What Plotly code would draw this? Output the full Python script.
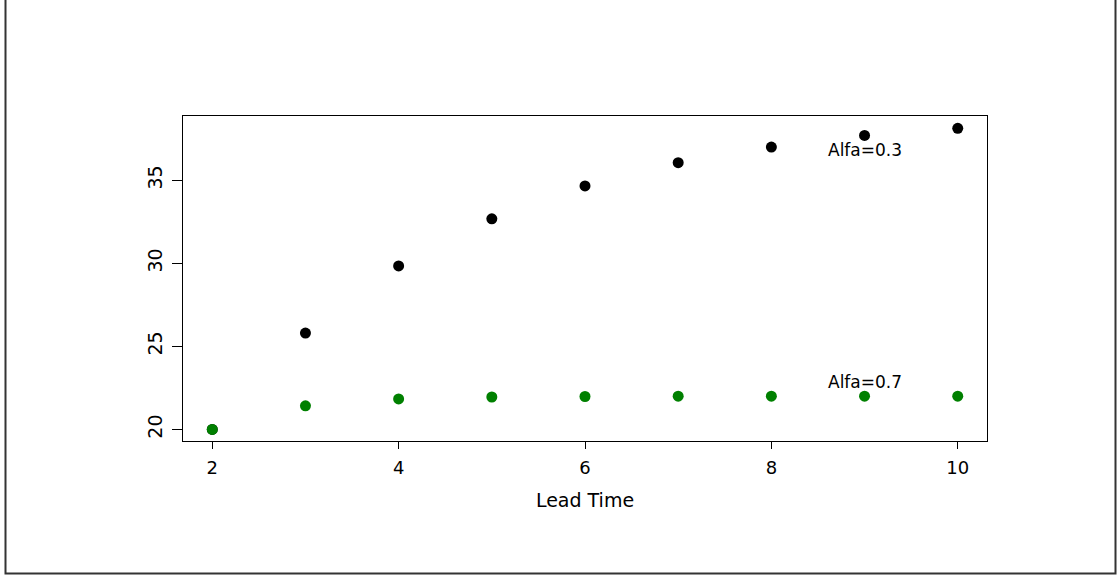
import plotly.graph_objects as go

lead_time = [2, 3, 4, 5, 6, 7, 8, 9, 10]
alfa03 = [20.0, 25.8, 29.84, 32.68, 34.66, 36.06, 37.0, 37.7, 38.13]
alfa07 = [20.0, 21.42, 21.83, 21.95, 21.98, 22.0, 22.0, 22.0, 22.0]
x_ticks = [2, 4, 6, 8, 10]
y_ticks = [20, 25, 30, 35]
labels = ["Alfa=0.3", "Alfa=0.7"]
label_x = [9, 9]
label_y = [36.85, 22.87]

FONT = "DejaVu Sans, Liberation Sans, Arial, sans-serif"

fig = go.Figure()
fig.add_trace(go.Scatter(x=lead_time, y=alfa03, mode="markers",
                         marker=dict(color="black", size=11, line=dict(width=0)),
                         showlegend=False, hoverinfo="skip"))
fig.add_trace(go.Scatter(x=lead_time, y=alfa07, mode="markers",
                         marker=dict(color="#008000", size=11, line=dict(width=0)),
                         showlegend=False, hoverinfo="skip"))
for t, xx, yy in zip(labels, label_x, label_y):
    fig.add_annotation(x=xx, y=yy, text=t, showarrow=False,
                       font=dict(family=FONT, size=17, color="black"))

L, R, T, B = 183, 1120 - 987, 116, 575 - 441
W, H = 1120 - L - R, 575 - T - B

fig.add_shape(type="rect", xref="paper", yref="paper",
              x0=(5.5 - L) / W, x1=(1115.5 - L) / W,
              y0=(441 - 573.5) / H, y1=(441 + 10) / H,
              line=dict(color="#333333", width=2), layer="below")

fig.update_layout(
    width=1120, height=575,
    margin=dict(l=L, r=R, t=T, b=B),
    paper_bgcolor="white", plot_bgcolor="white",
    font=dict(family=FONT, size=18, color="black"),
    xaxis=dict(range=[1.686, 10.314], tickvals=x_ticks, ticks="outside",
               ticklen=7, tickcolor="black", showgrid=False, zeroline=False,
               showline=True, linecolor="black", linewidth=1, mirror=True,
               tickfont=dict(size=18), ticklabelstandoff=3,
               title=dict(text="Lead Time", font=dict(size=19), standoff=17)),
    yaxis=dict(range=[19.30, 38.87], tickvals=y_ticks, ticks="outside",
               ticklen=10, tickcolor="black", showgrid=False, zeroline=False,
               showline=True, linecolor="black", linewidth=1, mirror=True,
               tickangle=-90, tickfont=dict(size=19), ticklabelstandoff=2),
)

fig.write_html("out.html", config={"displayModeBar": False},
               post_script="document.body.style.margin='0';document.body.style.overflow='hidden';")
